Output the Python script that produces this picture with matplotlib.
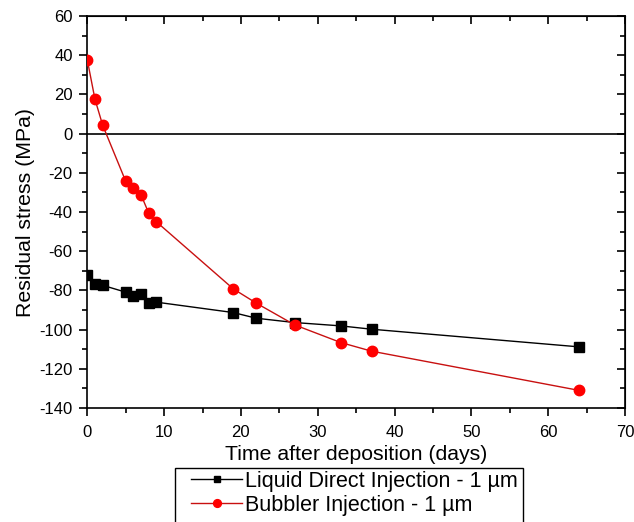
import matplotlib
matplotlib.use("Agg")
import matplotlib.pyplot as plt
from matplotlib.ticker import MultipleLocator
from matplotlib.patches import Rectangle

plt.rcParams['font.family'] = ['Liberation Sans', 'DejaVu Sans']
plt.rcParams['axes.unicode_minus'] = False

days_ldi = [0, 1, 2, 5, 6, 7, 8, 9, 19, 22, 27, 33, 37, 64]
stress_ldi = [-72.1, -76.8, -77.4, -80.9, -83.1, -81.9, -86.5, -86.0, -91.3, -94.2, -96.4, -98.1, -99.8, -108.8]

days_bub = [0, 1, 2, 5, 6, 7, 8, 9, 19, 22, 27, 33, 37, 64]
stress_bub = [37.6, 17.5, 4.3, -24.3, -27.9, -31.3, -40.6, -45.0, -79.2, -86.5, -97.6, -106.6, -111.0, -131.0]

label_ldi = "Liquid Direct Injection - 1 µm"
label_bub = "Bubbler Injection - 1 µm"

W, H = 634, 522
fig = plt.figure(figsize=(W / 100, H / 100), dpi=100)
ax = fig.add_axes([0.1377, 0.2184, 0.9858 - 0.1377, 0.9693 - 0.2184])

ax.axhline(0, color='black', lw=1.2, zorder=1)
l1, = ax.plot(days_ldi, stress_ldi, color='black', lw=1.0, marker='s', ms=6.5,
              mfc='black', mec='black', label=label_ldi, zorder=3)
l2, = ax.plot(days_bub, stress_bub, color='#c81010', lw=1.0, marker='o', ms=7.5,
              mfc='#ff0000', mec='#ff0000', label=label_bub, zorder=3)

ax.set_xlim(0, 70)
ax.set_ylim(-140, 60)
ax.xaxis.set_major_locator(MultipleLocator(10))
ax.xaxis.set_minor_locator(MultipleLocator(5))
ax.yaxis.set_major_locator(MultipleLocator(20))
ax.yaxis.set_minor_locator(MultipleLocator(10))

for s in ax.spines.values():
    s.set_linewidth(1.2)

ax.tick_params(axis='both', which='major', direction='out', length=6, width=1.2,
               labelsize=12, top=False, right=False)
ax.tick_params(axis='both', which='minor', direction='out', length=3.5, width=1.2,
               top=False, right=False)
ax.tick_params(axis='x', which='major', pad=6.5)
ax.tick_params(axis='y', which='major', pad=4.5)

# mirrored inward ticks on top and right
ax_top = ax.secondary_xaxis('top')
ax_top.xaxis.set_major_locator(MultipleLocator(10))
ax_top.xaxis.set_minor_locator(MultipleLocator(5))
ax_top.tick_params(which='major', direction='in', length=6, width=1.2, labeltop=False)
ax_top.tick_params(which='minor', direction='in', length=3.5, width=1.2)
ax_right = ax.secondary_yaxis('right')
ax_right.yaxis.set_major_locator(MultipleLocator(20))
ax_right.yaxis.set_minor_locator(MultipleLocator(10))
ax_right.tick_params(which='major', direction='in', length=6, width=1.2, labelright=False)
ax_right.tick_params(which='minor', direction='in', length=3.5, width=1.2)

ax.set_xlabel("Time after deposition (days)", fontsize=15.3, labelpad=3)
ax.set_ylabel("Residual stress (MPa)", fontsize=15.3, labelpad=3)

# legend frame (extends beyond bottom edge like the reference)
fig.patches.append(Rectangle((175 / W, 1 - 540 / H), (523 - 175) / W, (540 - 468) / H,
                             transform=fig.transFigure, fill=False,
                             edgecolor='black', lw=1.0))
leg = fig.legend(handles=[l1, l2], loc='upper left',
                 bbox_to_anchor=(191 / W, 1 - 471 / H),
                 fontsize=15.5, frameon=False,
                 borderpad=0, handlelength=2.37, labelspacing=0.12,
                 handletextpad=0.15, borderaxespad=0, markerscale=0.75)

fig.savefig("out.png", dpi=100)
